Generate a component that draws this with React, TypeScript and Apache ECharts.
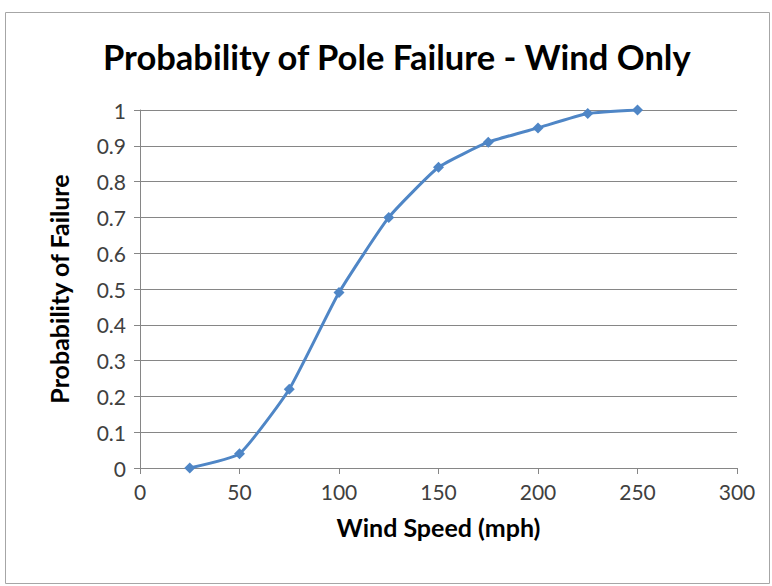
import React, { useEffect, useRef } from "react";
import * as echarts from "echarts";

const title = "Probability of Pole Failure - Wind Only";
const xAxisName = "Wind Speed (mph)";
const yAxisName = "Probability of Failure";
const windSpeed = [25, 50, 75, 100, 125, 150, 175, 200, 225, 250];
const probability = [0, 0.04, 0.22, 0.49, 0.7, 0.84, 0.91, 0.95, 0.99, 1.0];

const FONT = "Lato";

export default function App() {
  const ref = useRef<HTMLDivElement>(null);
  useEffect(() => {
    document.body.style.margin = "0";
    const chart = echarts.init(ref.current!, null, { renderer: "svg" });
    chart.setOption({
      animation: false,
      backgroundColor: "#ffffff",
      graphic: [
        {
          type: "rect",
          shape: { x: 5.5, y: 12.5, width: 764, height: 571 },
          style: { fill: "none", stroke: "#a6a6a6", lineWidth: 1 },
          silent: true,
        },
      ],
      title: {
        text: title,
        left: 98,
        top: 34,
        textStyle: { fontFamily: FONT, fontSize: 34.5, fontWeight: "bold", color: "#000" },
      },
      grid: { left: 140, right: 35, top: 110, bottom: 118 },
      xAxis: {
        type: "value",
        min: 0,
        max: 300,
        interval: 50,
        name: xAxisName,
        nameLocation: "middle",
        nameGap: 46,
        nameTextStyle: { fontFamily: FONT, fontSize: 25, fontWeight: "bold", color: "#000" },
        axisLine: { show: true, lineStyle: { color: "#868686", width: 1 } },
        axisTick: { show: true, length: 6, lineStyle: { color: "#868686" } },
        axisLabel: { fontFamily: FONT, fontSize: 21, color: "#404040", margin: 13 },
        splitLine: { show: false },
      },
      yAxis: {
        type: "value",
        min: 0,
        max: 1,
        interval: 0.1,
        name: yAxisName,
        nameLocation: "middle",
        nameGap: 69,
        nameRotate: 90,
        nameTextStyle: { fontFamily: FONT, fontSize: 25, fontWeight: "bold", color: "#000" },
        axisLine: { show: true, lineStyle: { color: "#868686", width: 1 } },
        axisTick: { show: true, length: 6, lineStyle: { color: "#868686" } },
        axisLabel: { fontFamily: FONT, fontSize: 21, color: "#404040", margin: 14 },
        splitLine: { show: true, lineStyle: { color: "#868686", width: 1 } },
      },
      series: [
        {
          type: "line",
          data: windSpeed.map((x, i) => [x, probability[i]]),
          smooth: 0.15,
          symbol: "diamond",
          symbolSize: 11,
          lineStyle: { color: "#4f86c6", width: 3 },
          itemStyle: { color: "#4f86c6" },
        },
      ],
    });
    return () => chart.dispose();
  }, []);
  return <div ref={ref} style={{ width: 772, height: 586 }} />;
}
